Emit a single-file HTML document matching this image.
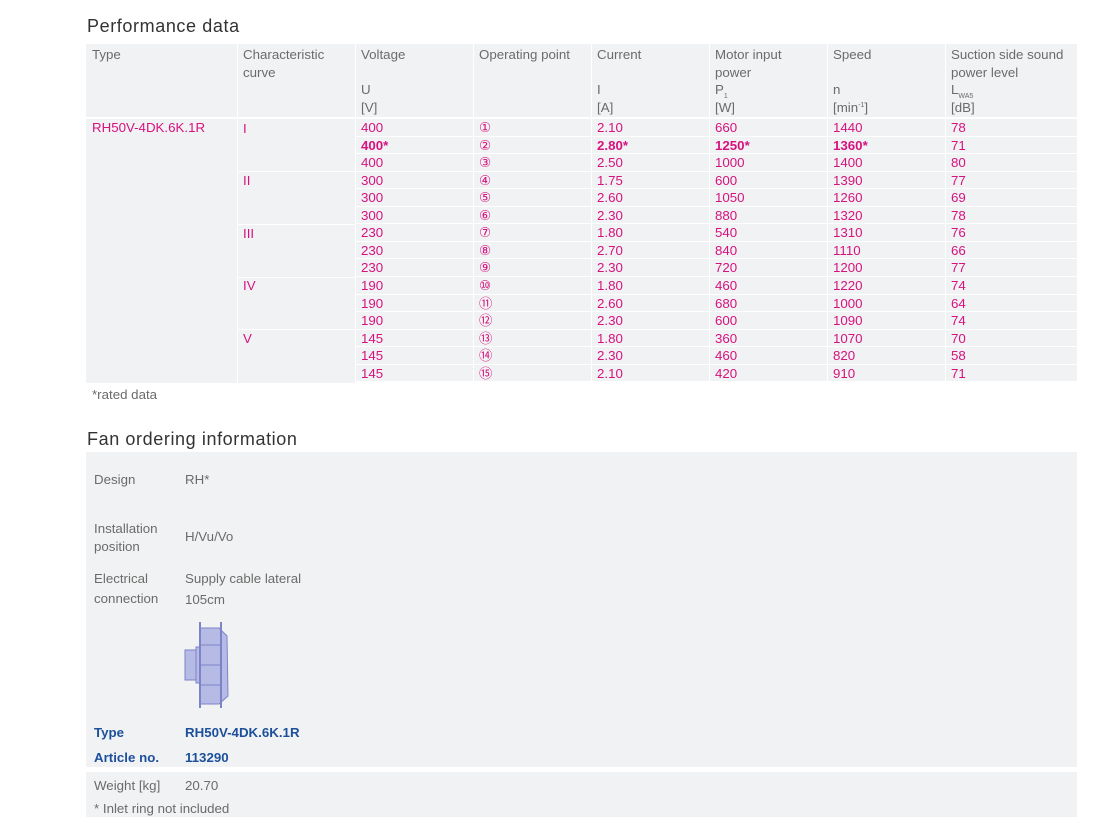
<!DOCTYPE html>
<html><head><meta charset="utf-8"><style>
body{margin:0;width:1098px;height:825px;background:#fff;font-family:"Liberation Sans",sans-serif;color:#6b6b6b;font-size:13.3px;position:relative;overflow:hidden}
.a{position:absolute}
.bg{position:absolute;background:#f1f2f3}
.h{position:absolute;line-height:17.5px;top:46px}
.s{font-size:7px;position:relative;line-height:0}
.r{position:absolute;left:0;height:16.6px;line-height:18px;color:#d6127f}
.r div{position:absolute;top:0;height:16.6px;background:#f1f2f3;padding-left:5px;box-sizing:border-box}
.b{font-weight:bold}
.t{font-size:18px;color:#333;letter-spacing:0.6px}
.bl{color:#1c4f9c;font-weight:bold}
</style></head><body>
<div class="a t" style="left:87px;top:16px">Performance data</div>
<div class="bg" style="left:86px;top:44px;width:151px;height:73px"></div>
<div class="bg" style="left:238px;top:44px;width:117px;height:73px"></div>
<div class="bg" style="left:356px;top:44px;width:117px;height:73px"></div>
<div class="bg" style="left:474px;top:44px;width:117px;height:73px"></div>
<div class="bg" style="left:592px;top:44px;width:117px;height:73px"></div>
<div class="bg" style="left:710px;top:44px;width:117px;height:73px"></div>
<div class="bg" style="left:828px;top:44px;width:117px;height:73px"></div>
<div class="bg" style="left:946px;top:44px;width:131px;height:73px"></div>
<div class="h" style="left:92px">Type</div>
<div class="h" style="left:243px">Characteristic<br>curve</div>
<div class="h" style="left:361px">Voltage<br><br>U<br>[V]</div>
<div class="h" style="left:479px">Operating point</div>
<div class="h" style="left:597px">Current<br><br>I<br>[A]</div>
<div class="h" style="left:715px">Motor input<br>power<br>P<span class="s" style="top:4px">1</span><br>[W]</div>
<div class="h" style="left:833px">Speed<br><br>n<br>[min<span class="s" style="top:-5px">-1</span>]</div>
<div class="h" style="left:951px">Suction side sound<br>power level<br>L<span class="s" style="top:4px">WA5</span><br>[dB]</div>
<div class="bg" style="left:86px;top:119px;width:151px;height:264px"></div>
<div class="a" style="left:92px;top:119px;line-height:18px;color:#d6127f">RH50V-4DK.6K.1R</div>
<div class="bg" style="left:238px;top:119px;width:117px;height:264px"></div>
<div class="a" style="left:243px;top:119.5px;line-height:17.55px;color:#d6127f">I<br><br><br>II<br><br><br>III<br><br><br>IV<br><br><br>V</div>
<div class="a" style="left:238px;top:171px;width:117px;height:1px;background:#fff"></div>
<div class="a" style="left:238px;top:224px;width:117px;height:1px;background:#fff"></div>
<div class="a" style="left:238px;top:277px;width:117px;height:1px;background:#fff"></div>
<div class="a" style="left:238px;top:329px;width:117px;height:1px;background:#fff"></div>

<div class="r" style="top:119px"><div style="left:356px;width:117px">400</div><div style="left:474px;width:117px">①</div><div style="left:592px;width:117px">2.10</div><div style="left:710px;width:117px">660</div><div style="left:828px;width:117px">1440</div><div style="left:946px;width:131px">78</div></div>
<div class="r" style="top:136.5px"><div class="b" style="left:356px;width:117px">400*</div><div style="left:474px;width:117px">②</div><div class="b" style="left:592px;width:117px">2.80*</div><div class="b" style="left:710px;width:117px">1250*</div><div class="b" style="left:828px;width:117px">1360*</div><div style="left:946px;width:131px">71</div></div>
<div class="r" style="top:154px"><div style="left:356px;width:117px">400</div><div style="left:474px;width:117px">③</div><div style="left:592px;width:117px">2.50</div><div style="left:710px;width:117px">1000</div><div style="left:828px;width:117px">1400</div><div style="left:946px;width:131px">80</div></div>
<div class="r" style="top:171.6px"><div style="left:356px;width:117px">300</div><div style="left:474px;width:117px">④</div><div style="left:592px;width:117px">1.75</div><div style="left:710px;width:117px">600</div><div style="left:828px;width:117px">1390</div><div style="left:946px;width:131px">77</div></div>
<div class="r" style="top:189.2px"><div style="left:356px;width:117px">300</div><div style="left:474px;width:117px">⑤</div><div style="left:592px;width:117px">2.60</div><div style="left:710px;width:117px">1050</div><div style="left:828px;width:117px">1260</div><div style="left:946px;width:131px">69</div></div>
<div class="r" style="top:206.8px"><div style="left:356px;width:117px">300</div><div style="left:474px;width:117px">⑥</div><div style="left:592px;width:117px">2.30</div><div style="left:710px;width:117px">880</div><div style="left:828px;width:117px">1320</div><div style="left:946px;width:131px">78</div></div>
<div class="r" style="top:224.3px"><div style="left:356px;width:117px">230</div><div style="left:474px;width:117px">⑦</div><div style="left:592px;width:117px">1.80</div><div style="left:710px;width:117px">540</div><div style="left:828px;width:117px">1310</div><div style="left:946px;width:131px">76</div></div>
<div class="r" style="top:241.9px"><div style="left:356px;width:117px">230</div><div style="left:474px;width:117px">⑧</div><div style="left:592px;width:117px">2.70</div><div style="left:710px;width:117px">840</div><div style="left:828px;width:117px">1110</div><div style="left:946px;width:131px">66</div></div>
<div class="r" style="top:259.4px"><div style="left:356px;width:117px">230</div><div style="left:474px;width:117px">⑨</div><div style="left:592px;width:117px">2.30</div><div style="left:710px;width:117px">720</div><div style="left:828px;width:117px">1200</div><div style="left:946px;width:131px">77</div></div>
<div class="r" style="top:277px"><div style="left:356px;width:117px">190</div><div style="left:474px;width:117px">⑩</div><div style="left:592px;width:117px">1.80</div><div style="left:710px;width:117px">460</div><div style="left:828px;width:117px">1220</div><div style="left:946px;width:131px">74</div></div>
<div class="r" style="top:294.5px"><div style="left:356px;width:117px">190</div><div style="left:474px;width:117px">⑪</div><div style="left:592px;width:117px">2.60</div><div style="left:710px;width:117px">680</div><div style="left:828px;width:117px">1000</div><div style="left:946px;width:131px">64</div></div>
<div class="r" style="top:312px"><div style="left:356px;width:117px">190</div><div style="left:474px;width:117px">⑫</div><div style="left:592px;width:117px">2.30</div><div style="left:710px;width:117px">600</div><div style="left:828px;width:117px">1090</div><div style="left:946px;width:131px">74</div></div>
<div class="r" style="top:329.6px"><div style="left:356px;width:117px">145</div><div style="left:474px;width:117px">⑬</div><div style="left:592px;width:117px">1.80</div><div style="left:710px;width:117px">360</div><div style="left:828px;width:117px">1070</div><div style="left:946px;width:131px">70</div></div>
<div class="r" style="top:347.1px"><div style="left:356px;width:117px">145</div><div style="left:474px;width:117px">⑭</div><div style="left:592px;width:117px">2.30</div><div style="left:710px;width:117px">460</div><div style="left:828px;width:117px">820</div><div style="left:946px;width:131px">58</div></div>
<div class="r" style="top:364.7px"><div style="left:356px;width:117px">145</div><div style="left:474px;width:117px">⑮</div><div style="left:592px;width:117px">2.10</div><div style="left:710px;width:117px">420</div><div style="left:828px;width:117px">910</div><div style="left:946px;width:131px">71</div></div>

<div class="a" style="left:92px;top:386px;line-height:17px">*rated data</div>

<div class="a t" style="left:87px;top:429px">Fan ordering information</div>
<div class="bg" style="left:86px;top:452px;width:991px;height:315px"></div>
<div class="a" style="left:94px;top:472px">Design</div>
<div class="a" style="left:185px;top:472px">RH*</div>
<div class="a" style="left:94px;top:520px;line-height:18px">Installation<br>position</div>
<div class="a" style="left:185px;top:529px">H/Vu/Vo</div>
<div class="a" style="left:94px;top:569px;line-height:20px">Electrical<br>connection</div>
<div class="a" style="left:185px;top:568px;line-height:21px">Supply cable lateral<br>105cm</div>
<svg class="a" style="left:183px;top:620px" width="50" height="90" viewBox="0 0 50 90">
<rect x="2" y="30" width="11" height="30" fill="#b6bbe6" stroke="#7d83c9"/>
<rect x="13" y="27" width="4" height="36" fill="#b6bbe6" stroke="#7d83c9"/>
<path d="M17 8 L36 8 L44 16 L45 76 L36 84 L17 84 Z" fill="#b6bbe6" stroke="#7d83c9"/>
<line x1="17" y1="2" x2="17" y2="88" stroke="#7d83c9" stroke-width="2"/>
<line x1="38" y1="2" x2="38" y2="88" stroke="#7d83c9" stroke-width="2"/>
<line x1="17" y1="25" x2="38" y2="25" stroke="#7d83c9"/>
<line x1="17" y1="45" x2="38" y2="45" stroke="#7d83c9"/>
<line x1="17" y1="65" x2="38" y2="65" stroke="#7d83c9"/>
</svg>
<div class="a bl" style="left:94px;top:725px">Type</div>
<div class="a bl" style="left:185px;top:725px">RH50V-4DK.6K.1R</div>
<div class="a bl" style="left:94px;top:750px">Article no.</div>
<div class="a bl" style="left:185px;top:750px">113290</div>
<div class="bg" style="left:86px;top:772px;width:991px;height:45px"></div>
<div class="a" style="left:94px;top:778px">Weight [kg]</div>
<div class="a" style="left:185px;top:778px">20.70</div>
<div class="a" style="left:94px;top:801px">* Inlet ring not included</div>
</body></html>
